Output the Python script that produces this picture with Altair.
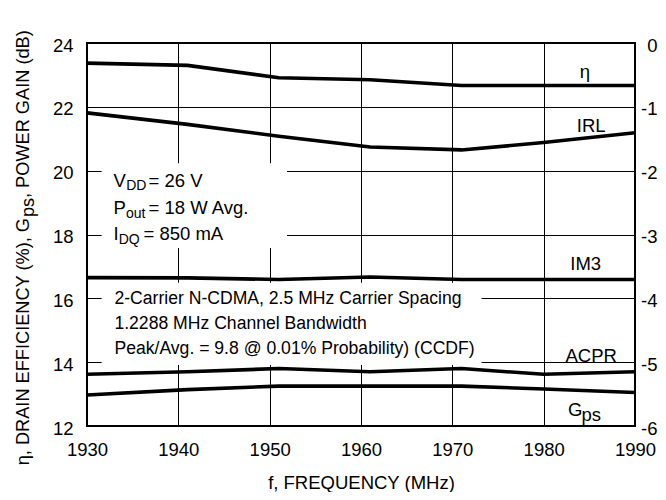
import altair as alt
import pandas as pd

# ---------------- data ----------------
FREQ = [1930, 1941, 1951, 1961, 1971, 1980, 1990]
ETA = [23.37, 23.30, 22.91, 22.85, 22.67, 22.67, 22.67]
IRL = [21.81, 21.45, 21.08, 20.74, 20.65, 20.88, 21.19]
IM3 = [16.65, 16.64, 16.59, 16.67, 16.59, 16.59, 16.59]
ACPR = [13.62, 13.70, 13.80, 13.70, 13.80, 13.62, 13.70]
GPS = [12.97, 13.14, 13.25, 13.25, 13.25, 13.16, 13.05]
SERIES = ["η", "IRL", "IM3", "ACPR", "Gps"]

X_TICKS = [1930, 1940, 1950, 1960, 1970, 1980, 1990]
Y_TICKS = [12, 14, 16, 18, 20, 22, 24]
RIGHT_TICKS = [0, -1, -2, -3, -4, -5, -6]

X_TITLE = "f, FREQUENCY (MHz)"
Y_TITLE_PARTS = ["η, DRAIN EFFICIENCY (%),  G", "ps", " , POWER GAIN (dB)"]
NOTE1_MAIN = ["V", "P", "I"]
NOTE1_SUB = ["DD", "out", "DQ"]
NOTE1_REST = ["= 26 V", "= 18 W Avg.", "= 850 mA"]
NOTE2 = ["2-Carrier N-CDMA, 2.5 MHz Carrier Spacing",
         "1.2288 MHz Channel Bandwidth",
         "Peak/Avg. = 9.8 @ 0.01% Probability) (CCDF)"]
LABELS = ["η", "IRL", "IM3", "ACPR"]
GPS_LABEL = ["G", "ps"]

FONT = "Liberation Sans, Arial, Helvetica, sans-serif"
FS = 18.5

# ---------------- tables ----------------
rows = []
for name, vals in zip(SERIES, [ETA, IRL, IM3, ACPR, GPS]):
    for f, v in zip(FREQ, vals):
        rows.append({"series": name, "freq": f, "value": v})
lines_df = pd.DataFrame(rows)

boxes_df = pd.DataFrame({
    "x1": [1931.6, 1931.6], "x2": [1951.9, 1973.2],
    "y1": [20.23, 16.49], "y2": [17.58, 13.91],
})

xscale = alt.Scale(domain=[1930, 1990], nice=False, zero=False)
yscale = alt.Scale(domain=[12, 24], nice=False, zero=False)

xaxis = alt.Axis(values=X_TICKS, format="d", grid=True, gridColor="black",
                 gridOpacity=1, gridWidth=1, domain=False, ticks=False, tickSize=0,
                 labelFont=FONT, labelFontSize=FS, labelColor="black",
                 labelFlush=False, labelOverlap=False, labelBound=False,
                 labelPadding=14, title=X_TITLE, titleFont=FONT,
                 titleFontSize=FS, titleFontWeight="normal", titleColor="black",
                 titleBaseline="alphabetic", titleY=62)
yaxis = alt.Axis(values=Y_TICKS, grid=True, gridColor="black", gridOpacity=1,
                 gridWidth=1, domain=False, ticks=False, tickSize=0,
                 labelFont=FONT, labelFontSize=FS, labelColor="black",
                 labelFlush=False, labelOverlap=False, labelBound=False,
                 labelPadding=14, labelOffset=2, title=None)


def X(field):
    return alt.X(field, type="quantitative", scale=xscale, axis=xaxis)


def Y(field):
    return alt.Y(field, type="quantitative", scale=yscale, axis=yaxis)


def txt(s, x, y, size=FS, dx=0, dy=0, align="left"):
    df = pd.DataFrame({"freq": [x], "value": [y], "label": [s]})
    return alt.Chart(df).mark_text(
        align=align, baseline="alphabetic", dx=dx, dy=dy, fontSize=size,
        font=FONT, color="black"
    ).encode(x=X("freq"), y=Y("value"), text="label:N")


def ptxt(s, px, py, align, size=18.2):
    df = pd.DataFrame({"label": [s]})
    return alt.Chart(df).mark_text(
        align=align, baseline="alphabetic", angle=270, fontSize=size,
        font=FONT, color="black"
    ).encode(x=alt.value(px), y=alt.value(py), text="label:N")


rects = alt.Chart(boxes_df).mark_rect(color="white", opacity=1).encode(
    x=X("x1"), x2="x2", y=Y("y1"), y2="y2")

lines = alt.Chart(lines_df).mark_line(
    color="black", strokeWidth=3.6, strokeJoin="round", strokeCap="butt"
).encode(x=X("freq"), y=Y("value"), detail="series:N")

layers = [rects, lines]

# note box 1
NOTE1_Y = [19.50, 18.64, 17.83]
SUB_DX = [12.7, 12.5, 5.2]
REST_DX = [35, 35, 30]
for m, s, r, yv, sdx, rdx in zip(NOTE1_MAIN, NOTE1_SUB, NOTE1_REST, NOTE1_Y, SUB_DX, REST_DX):
    layers.append(txt(m, 1932.9, yv))
    layers.append(txt(s, 1932.9, yv, size=14, dx=sdx, dy=3.8))
    layers.append(txt(r, 1932.9, yv, dx=rdx))

# note box 2
for line, yv in zip(NOTE2, [15.82, 15.03, 14.25]):
    layers.append(txt(line, 1933.0, yv, size=17.6))

# series labels
for lab, xv, yv in zip(LABELS, [1984.5, 1985.2, 1984.6, 1985.2], [22.90, 21.22, 16.89, 14.00]):
    layers.append(txt(lab, xv, yv, align="center"))
layers.append(txt(GPS_LABEL[0], 1982.66, 12.31))
layers.append(txt(GPS_LABEL[1], 1982.66, 12.31, dx=13.5, dy=4.7))

# rotated y title (pixel positions relative to plot)
layers.append(ptxt(Y_TITLE_PARTS[0], -58, 175, "right"))
layers.append(ptxt(Y_TITLE_PARTS[1], -53, 174, "left"))
layers.append(ptxt(Y_TITLE_PARTS[2], -58, 155, "left"))

left = alt.layer(*layers)

right = alt.Chart(pd.DataFrame({"r": RIGHT_TICKS})).mark_point(opacity=0).encode(
    y=alt.Y("r:Q", scale=alt.Scale(domain=[-6, 0], nice=False, zero=False),
            axis=alt.Axis(orient="right", values=RIGHT_TICKS, grid=False,
                          domain=False, ticks=False, tickSize=0,
                          labelExpr="datum.value == 0 ? '0' : '-' + abs(datum.value)",
                          labelFont=FONT, labelFontSize=FS, labelColor="black",
                          labelFlush=False, labelOverlap=False, labelBound=False,
                          labelAlign="right", labelPadding=22, labelOffset=2,
                          title=None))
)

chart = alt.layer(left, right).resolve_scale(y="independent").properties(
    width=548, height=383,
    autosize=alt.AutoSizeParams(type="none"),
    padding={"left": 79, "top": 35, "right": 23, "bottom": 66},
    background="white",
).configure_view(stroke="black", strokeWidth=2)

chart.save("out.html", embed_options={"renderer": "svg", "actions": False})
